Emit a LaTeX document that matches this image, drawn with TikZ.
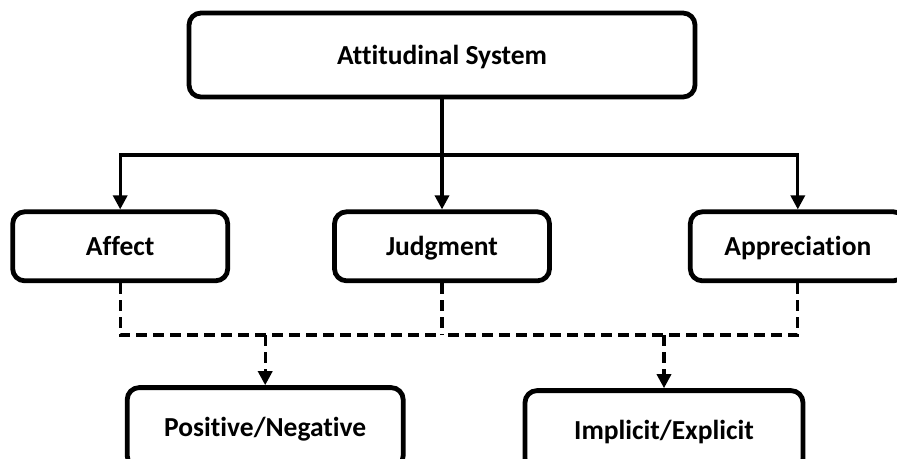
\documentclass[tikz,border=0pt]{standalone}
\usepackage{fontspec}
\setmainfont[Ligatures={NoCommon}]{Carlito}
\usetikzlibrary{positioning,arrows.meta}

\begin{document}
\begin{tikzpicture}[x=1pt, y=-1pt,
  main/.style = {draw, line width=4.8pt, rounded corners=12pt, align=center,
    minimum width=215pt, minimum height=69pt, text height=19pt, text depth=1pt,
    font=\bfseries\fontsize{27.5}{32}\selectfont},
  link/.style = {line width=3.3pt, -{Triangle[length=14pt,width=14pt]}},
  dline/.style = {line width=3.3pt, dash pattern=on 11pt off 6pt}]
\useasboundingbox (0,0) rectangle (897,458);
\node[main, minimum width=506pt, minimum height=84pt] (1) at (442,55) {Attitudinal System};
\node[main] (3) [below=110pt of 1] {Judgment};
\node[main] (2) [left=102pt of 3] {Affect};
\node[main] (4) [right=136pt of 3] {Appreciation};
\node[main, minimum width=276pt, minimum height=80pt] (5) [below=102pt of 2, xshift=145pt] {Positive/Negative};
\node[main, minimum width=278pt, minimum height=80pt] (6) [below=105pt of 3, xshift=222pt] {Implicit/Explicit};
% solid links
\coordinate (j) at (442,155);
\draw[link] (1) -- (3);
\draw[link] (j) -| (2);
\draw[link] (j) -| (4);
% dashed links
\coordinate (d) at (442,335);
\draw[dline] (2) |- (d);
\draw[dline] (3) -- (d);
\draw[dline] (4) |- (d);
\draw[dline, link] (5 |- d) -- (5);
\draw[dline, link] (6 |- d) -- (6);
\end{tikzpicture}
\end{document}
